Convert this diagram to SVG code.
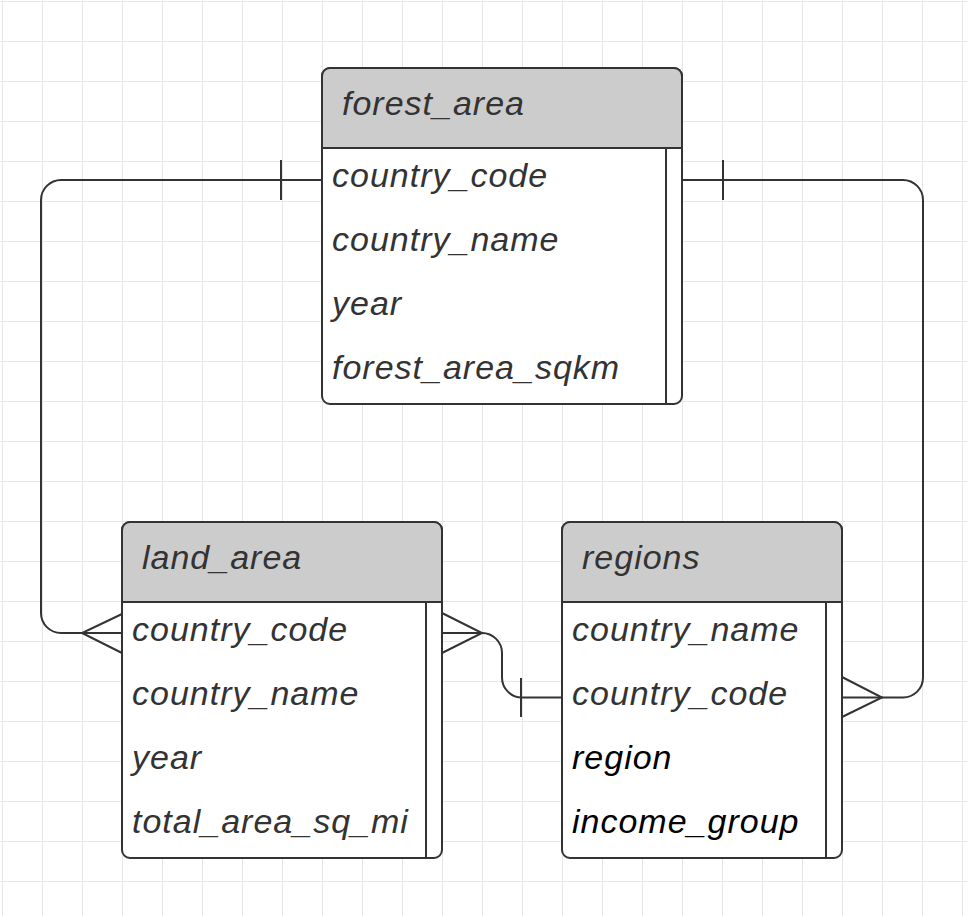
<svg xmlns="http://www.w3.org/2000/svg" width="968" height="916" viewBox="0 0 968 916">
<defs>
<pattern id="grid" x="2" y="1" width="40" height="40" patternUnits="userSpaceOnUse">
<path d="M0.5 0 V40 M0 0.5 H40" stroke="#e6e6e6" stroke-width="1" fill="none"/>
</pattern>
</defs>
<style>
.box{fill:#fff;stroke:#333;stroke-width:2}
.hdr{fill:#ccc;stroke:#333;stroke-width:2}
.ln{stroke:#333;stroke-width:2;fill:none}
.t{font-family:"Liberation Sans",Arial,sans-serif;font-style:italic;font-size:34px;letter-spacing:1px;fill:#333}
.k{fill:#000}
</style>
<rect width="968" height="916" fill="#fff"/>
<rect width="968" height="916" fill="url(#grid)"/>

<g id="connectors">
<path class="ln" d="M322 180 H61 A20 20 0 0 0 41 200 V613 A20 20 0 0 0 61 633 H122"/>
<path class="ln" d="M281 160 V200"/>
<path class="ln" d="M122 614 L82 633 L122 653"/>
<path class="ln" d="M682 180 H903 A20 20 0 0 1 923 200 V677.5 A20 20 0 0 1 903 697.5 H842"/>
<path class="ln" d="M723 160 V200"/>
<path class="ln" d="M842 677 L882 697.5 L842 717"/>
<path class="ln" d="M442 633 H482 A20 20 0 0 1 502 653 V677.5 A20 20 0 0 0 522 697.5 H562"/>
<path class="ln" d="M521 678 V717"/>
<path class="ln" d="M442 613 L482 633 L442 653"/>
</g>

<g id="forest_area">
<rect class="box" x="322" y="68" width="360" height="336" rx="8"/>
<path class="hdr" d="M322 148 V76 A8 8 0 0 1 330 68 H674 A8 8 0 0 1 682 76 V148 Z"/>
<path class="ln" d="M666 148 V404"/>
<text class="t" x="342" y="115">forest_area</text>
<text class="t" x="332" y="187">country_code</text>
<text class="t" x="332" y="251">country_name</text>
<text class="t" x="332" y="315">year</text>
<text class="t" x="332" y="379">forest_area_sqkm</text>
</g>

<g id="land_area">
<rect class="box" x="122" y="522" width="320" height="336" rx="8"/>
<path class="hdr" d="M122 602 V530 A8 8 0 0 1 130 522 H434 A8 8 0 0 1 442 530 V602 Z"/>
<path class="ln" d="M426 602 V858"/>
<text class="t" x="142" y="569">land_area</text>
<text class="t" x="132" y="641">country_code</text>
<text class="t" x="132" y="705">country_name</text>
<text class="t" x="132" y="769">year</text>
<text class="t" x="132" y="833">total_area_sq_mi</text>
</g>

<g id="regions">
<rect class="box" x="562" y="522" width="280" height="336" rx="8"/>
<path class="hdr" d="M562 602 V530 A8 8 0 0 1 570 522 H834 A8 8 0 0 1 842 530 V602 Z"/>
<path class="ln" d="M826 602 V858"/>
<text class="t" x="582" y="569">regions</text>
<text class="t" x="572" y="641">country_name</text>
<text class="t" x="572" y="705">country_code</text>
<text class="t k" x="572" y="769">region</text>
<text class="t k" x="572" y="833">income_group</text>
</g>
</svg>
